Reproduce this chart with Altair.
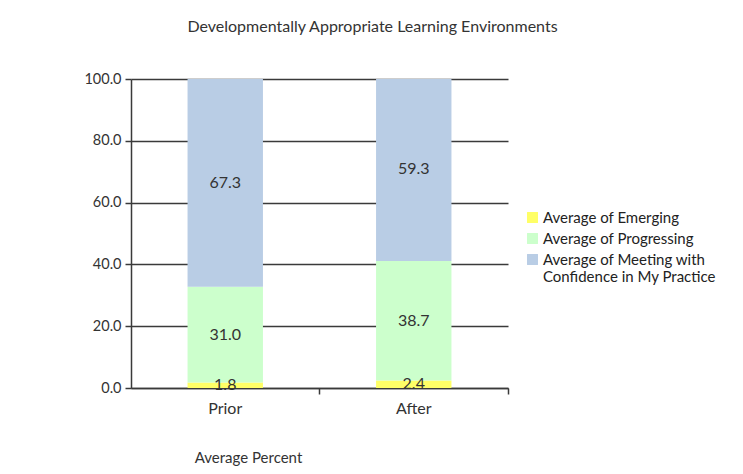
import altair as alt
import pandas as pd

# ---- data ----
periods = ["Prior", "After"]
series = [
    "Average of Emerging",
    "Average of Progressing",
    "Average of Meeting with\nConfidence in My Practice",
]
emerging = [1.8, 2.4]
progressing = [31.0, 38.7]
meeting = [67.3, 59.3]
y_ticks = [0, 20, 40, 60, 80, 100]
colors = ["#FFFF66", "#CCFFCC", "#B9CDE5"]
chart_title = "Developmentally Appropriate Learning Environments"
x_title = "Average Percent"

rows = []
for i, p in enumerate(periods):
    for k, vals in enumerate([emerging, progressing, meeting]):
        rows.append({"period": p, "series": series[k], "order": k, "value": vals[i]})
df = pd.DataFrame(rows)

FONT = "Lato"
AX = "#3a3a3a"

base = alt.Chart(df).transform_stack(
    stack="value",
    groupby=["period"],
    as_=["y0", "y1"],
    sort=[alt.SortField("order", order="ascending")],
).transform_calculate(mid="(datum.y0 + datum.y1) / 2")

x_enc = alt.X(
    "period:N",
    sort=periods,
    scale=alt.Scale(paddingInner=0.6, paddingOuter=0.3),
    axis=alt.Axis(
        title=x_title,
        labelAngle=0,
        labelFontSize=16,
        bandPosition=1.75,
        tickSize=6,
        labelPadding=6,
        titleX=117,
        titleY=77,
        titleAnchor="start",
        titleAlign="center",
        titleBaseline="bottom",
        titleFontWeight="normal",
        titleFontSize=15,
    ),
)

bars = base.mark_bar(clip=True).encode(
    x=x_enc,
    y=alt.Y(
        "y0:Q",
        scale=alt.Scale(domain=[0, 100], nice=False),
        axis=alt.Axis(
            title=None,
            values=y_ticks,
            format=".1f",
            tickSize=6,
            labelPadding=4,
            labelFontSize=14.5,
            grid=True,
        ),
    ),
    y2="y1:Q",
    color=alt.Color(
        "series:N",
        scale=alt.Scale(domain=series, range=colors),
        legend=alt.Legend(
            title=None,
            orient="none",
            legendX=394,
            legendY=131,
            symbolType="square",
            symbolSize=120,
            symbolStrokeWidth=0,
            labelFontSize=15,
            labelColor="#222222",
            labelFont=FONT,
            labelLimit=320,
            labelOffset=3,
            rowPadding=5,
            labelExpr="split(datum.label, '\\n')",
        ),
    ),
    order=alt.Order("order:Q"),
)

labels = base.mark_text(fontSize=16, color="#333333", font=FONT).encode(
    x=alt.X("period:N", sort=periods),
    y=alt.Y("mid:Q"),
    text=alt.Text("value:Q", format=".1f"),
)

chart = (
    alt.layer(bars, labels)
    .properties(
        width=377,
        height=309,
        padding={"left": 123, "top": 71, "right": 227, "bottom": 78},
        autosize=alt.AutoSizeParams(type="none"),
        title=alt.Title(
            chart_title,
            fontSize=16,
            font=FONT,
            fontWeight="normal",
            color="#333333",
            anchor="middle",
            dx=53,
            offset=36,
        ),
    )
    .configure_view(stroke=None)
    .configure_axis(
        labelFont=FONT,
        titleFont=FONT,
        labelColor="#333333",
        titleColor="#333333",
        domainColor=AX,
        domainWidth=1.5,
        tickColor=AX,
        tickWidth=1.5,
        gridColor=AX,
        gridWidth=1.5,
    )
)

chart.save("out.html", embed_options={"renderer": "svg", "actions": False})
